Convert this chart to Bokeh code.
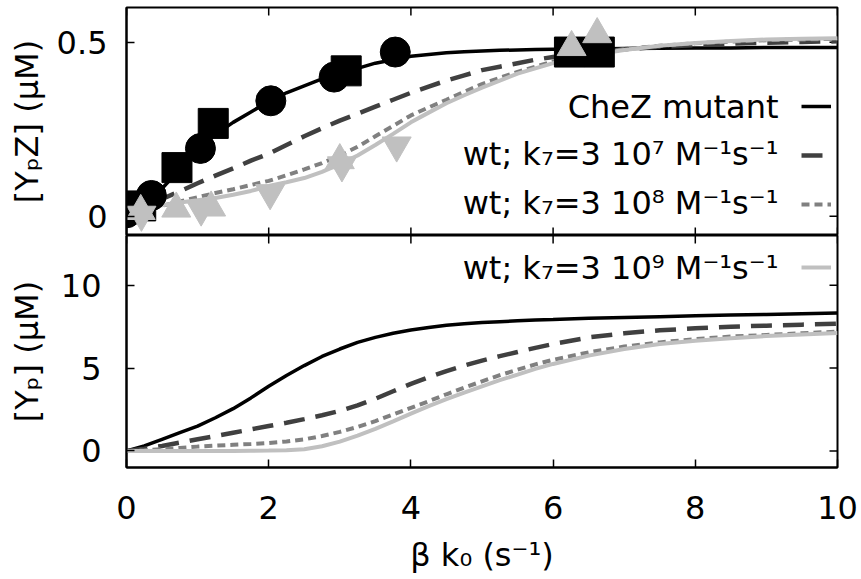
import math
from bokeh.plotting import figure
from bokeh.models import Range1d, LinearAxis, FixedTicker, Label, Legend, LegendItem
from bokeh.layouts import column
from bokeh.embed import file_html
from bokeh.resources import INLINE

# ---------------- data ----------------
beta_k0 = [0, 0.25, 0.5, 0.75, 1, 1.25, 1.5, 1.75, 2, 2.25, 2.5, 2.75, 3, 3.25, 3.5, 3.75,
           4, 4.25, 4.5, 4.75, 5, 5.25, 5.5, 5.75, 6, 6.5, 7, 7.5, 8, 8.5, 9, 9.5, 10]

# top panel: [YpZ] (uM)
ypz_mutant = [0, 0.035, 0.08, 0.135, 0.19, 0.235, 0.27, 0.30, 0.33, 0.355, 0.375, 0.395,
              0.41, 0.425, 0.44, 0.45, 0.46, 0.465, 0.47, 0.473, 0.475, 0.477, 0.478, 0.479,
              0.48, 0.481, 0.482, 0.483, 0.484, 0.484, 0.485, 0.485, 0.485]
ypz_k7_3e7 = [0, 0.025, 0.05, 0.072, 0.095, 0.117, 0.138, 0.16, 0.18, 0.205, 0.23, 0.253,
              0.275, 0.295, 0.315, 0.335, 0.355, 0.373, 0.39, 0.405, 0.42, 0.43, 0.44, 0.45,
              0.458, 0.47, 0.48, 0.487, 0.492, 0.496, 0.499, 0.501, 0.503]
ypz_k7_3e8 = [0, 0.015, 0.03, 0.043, 0.055, 0.067, 0.078, 0.09, 0.102, 0.118, 0.135, 0.153,
              0.175, 0.2, 0.23, 0.26, 0.29, 0.313, 0.335, 0.358, 0.38, 0.398, 0.415, 0.43,
              0.445, 0.465, 0.48, 0.49, 0.497, 0.502, 0.506, 0.508, 0.51]
ypz_k7_3e9 = [0, 0.02, 0.032, 0.04, 0.046, 0.053, 0.062, 0.073, 0.087, 0.098, 0.11, 0.128,
              0.15, 0.175, 0.205, 0.237, 0.27, 0.298, 0.325, 0.348, 0.37, 0.39, 0.41, 0.425,
              0.44, 0.462, 0.478, 0.49, 0.498, 0.504, 0.508, 0.51, 0.512]

# bottom panel: [Yp] (uM)
yp_mutant = [0, 0.3, 0.7, 1.1, 1.5, 2.0, 2.55, 3.2, 3.9, 4.55, 5.15, 5.7, 6.15, 6.55, 6.85,
             7.1, 7.3, 7.45, 7.58, 7.67, 7.75, 7.8, 7.85, 7.9, 7.93, 8.0, 8.05, 8.1, 8.15,
             8.2, 8.24, 8.28, 8.32]
yp_k7_3e7 = [0, 0.13, 0.3, 0.5, 0.7, 0.9, 1.1, 1.3, 1.5, 1.7, 1.92, 2.15, 2.42, 2.75, 3.15,
             3.6, 4.05, 4.45, 4.82, 5.15, 5.45, 5.72, 5.97, 6.22, 6.45, 6.85, 7.1, 7.28, 7.4,
             7.5, 7.56, 7.62, 7.68]
yp_k7_3e8 = [0, 0.04, 0.1, 0.18, 0.26, 0.32, 0.37, 0.42, 0.48, 0.57, 0.7, 0.9, 1.15, 1.45,
             1.8, 2.2, 2.6, 3.0, 3.42, 3.82, 4.2, 4.57, 4.9, 5.22, 5.5, 5.95, 6.3, 6.55, 6.75,
             6.9, 7.0, 7.1, 7.2]
yp_k7_3e9 = [0, 0, 0, 0, 0, 0, 0, 0.01, 0.02, 0.04, 0.1, 0.28, 0.56, 0.92, 1.33, 1.78, 2.25,
             2.7, 3.12, 3.52, 3.9, 4.27, 4.6, 4.95, 5.25, 5.75, 6.15, 6.45, 6.65, 6.8, 6.93,
             7.03, 7.12]

# measured points (top panel)
circle_x = [0, 0.35, 1.04, 2.03, 2.92, 3.78]
circle_y = [0.01, 0.06, 0.195, 0.332, 0.40, 0.472]
square_x = [0.2, 0.71, 1.22, 3.09, 6.23, 6.65]
square_y = [0.03, 0.14, 0.267, 0.418, 0.472, 0.472]
tri_up_x = [0.2, 0.7, 1.19, 3.0, 6.26, 6.62]
tri_up_y = [0.015, 0.022, 0.025, 0.161, 0.486, 0.523]
tri_down_x = [0.21, 1.05, 2.02, 3.03, 3.8]
tri_down_y = [0.005, 0.02, 0.067, 0.147, 0.204]

x_ticks = [0, 2, 4, 6, 8, 10]
top_y_ticks = [0, 0.5]
bottom_y_ticks = [0, 5, 10]

legend_labels = ["CheZ mutant",
                 "wt; k\u2087=3 10\u2077 M\u207b\u00b9s\u207b\u00b9",
                 "wt; k\u2087=3 10\u2078 M\u207b\u00b9s\u207b\u00b9",
                 "wt; k\u2087=3 10\u2079 M\u207b\u00b9s\u207b\u00b9"]
x_label = "\u03b2 k\u2080 (s\u207b\u00b9)"
top_y_label = "[Y\u209aZ] (\u03bcM)"
bottom_y_label = "[Y\u209a] (\u03bcM)"

# ---------------- style ----------------
FONT = "DejaVu Sans"
FS = "32px"
C_BLACK = "black"
C_DASH = "#404040"
C_DOT = "#808080"
C_GRAY = "#c0c0c0"
X_MIN, X_MAX = 0, 10
TOP_Y = (-0.055, 0.6)
BOT_Y = (-1, 13)


def make_axis(ticks, standoff, label, label_standoff):
    ax = LinearAxis(ticker=FixedTicker(ticks=ticks))
    ax.axis_line_width = 2
    ax.axis_line_color = "black"
    ax.major_tick_in = 8
    ax.major_tick_out = 0
    ax.major_tick_line_width = 1.5
    ax.minor_tick_line_color = None
    ax.major_label_standoff = standoff
    ax.major_label_text_font = FONT
    ax.major_label_text_color = "black"
    ax.major_label_text_font_size = FS
    ax.axis_label = label
    ax.axis_label_text_font = FONT
    ax.axis_label_text_font_size = FS
    ax.axis_label_text_font_style = "normal"
    ax.axis_label_text_color = "black"
    ax.axis_label_standoff = label_standoff
    return ax


def base_fig(height, yr, min_top, min_bottom):
    p = figure(width=858, height=height, x_range=Range1d(X_MIN, X_MAX),
               y_range=Range1d(*yr),
               output_backend="svg", toolbar_location=None,
               x_axis_location=None, y_axis_location=None,
               min_border_left=126, min_border_right=21,
               min_border_top=min_top, min_border_bottom=min_bottom)
    p.outline_line_color = "black"
    p.outline_line_width = 2
    p.xgrid.grid_line_color = None
    p.ygrid.grid_line_color = None
    p.background_fill_color = "white"
    p.border_fill_color = "white"
    return p


def mirror_ticks(p, yr, y_ticks, top=True, bottom=True):
    # inward tick marks on the unlabeled sides (half of each mark is clipped by the frame)
    p.scatter([X_MAX] * len(y_ticks), y_ticks, marker="dash", size=16,
              line_color="black", line_width=1.5)
    edges = ([yr[1]] if top else []) + ([yr[0]] if bottom else [])
    for ye in edges:
        p.scatter(x_ticks, [ye] * len(x_ticks), marker="dash", size=16, angle=math.pi / 2,
                  line_color="black", line_width=1.5)


def add_lines(p, ys):
    r1 = p.line(beta_k0, ys[0], line_color=C_BLACK, line_width=3.5)
    r2 = p.line(beta_k0, ys[1], line_color=C_DASH, line_width=4.5, line_dash="21 11")
    r3 = p.line(beta_k0, ys[2], line_color=C_DOT, line_width=4, line_dash="8 5")
    r4 = p.line(beta_k0, ys[3], line_color=C_GRAY, line_width=4)
    return [r1, r2, r3, r4]


def legend_for(p, renderers, loc):
    leg = Legend(items=[LegendItem(label=" ", renderers=[r]) for r in renderers],
                 location=loc, orientation="vertical",
                 glyph_width=30, glyph_height=20, label_height=20, label_width=0,
                 label_standoff=0, label_text_font_size="6px", spacing=29,
                 padding=0, margin=0, border_line_color=None,
                 background_fill_alpha=0)
    p.add_layout(leg)


def legend_text(p, txt, yv):
    p.add_layout(Label(x=9.17, y=yv, text=txt, text_align="right", text_baseline="middle",
                       text_font=FONT, text_font_size=FS, text_color="black"))


# ---------------- top panel ----------------
p1 = base_fig(235, TOP_Y, 7, 0)
p1.add_layout(make_axis(top_y_ticks, 19, top_y_label, 8), "left")
mirror_ticks(p1, TOP_Y, top_y_ticks, top=True, bottom=True)

top_lines = add_lines(p1, [ypz_mutant, ypz_k7_3e7, ypz_k7_3e8, ypz_k7_3e9])
p1.scatter(circle_x, circle_y, marker="circle", size=30, color=C_BLACK)
p1.scatter(square_x, square_y, marker="square", size=30, color=C_BLACK)
p1.scatter(tri_up_x, tri_up_y, marker="triangle", size=29, color=C_GRAY)
p1.scatter(tri_down_x, tri_down_y, marker="inverted_triangle", size=29, color=C_GRAY)

legend_for(p1, top_lines[:3], (675, 21))
for txt, yv in zip(legend_labels[:3], [0.315, 0.178, 0.037]):
    legend_text(p1, txt, yv)

# ---------------- bottom panel ----------------
p2 = base_fig(341, BOT_Y, 0, 108)
p2.add_layout(make_axis(bottom_y_ticks, 25, bottom_y_label, 12), "left")
p2.add_layout(make_axis(x_ticks, 28, x_label, 14), "below")
mirror_ticks(p2, BOT_Y, bottom_y_ticks, top=True, bottom=False)

bottom_lines = add_lines(p2, [yp_mutant, yp_k7_3e7, yp_k7_3e8, yp_k7_3e9])
legend_for(p2, bottom_lines[3:], (675, 190))
legend_text(p2, legend_labels[3], 11.02)

layout = column(p1, p2, spacing=0)
open("out.html", "w").write(file_html(layout, INLINE))
